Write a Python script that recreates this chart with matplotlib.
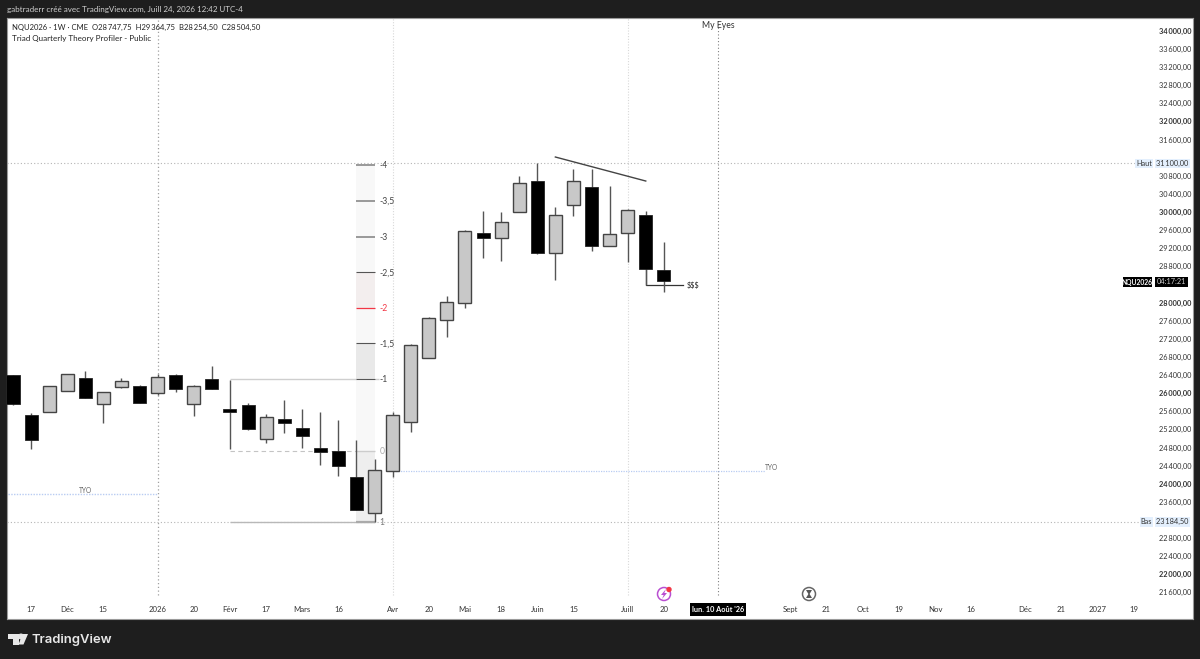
import numpy as np
from matplotlib import pyplot as plt
from matplotlib.patches import Rectangle, Polygon, Circle
from matplotlib.transforms import IdentityTransform, ScaledTranslation

plt.rcParams['font.family'] = ['Lato', 'DejaVu Sans']

#==================== DATA ====================
opens  = [26415, 25545, 25612, 26075, 26356, 25775, 26150, 26186, 26031, 26429, 25788, 26340,
          25678, 25753, 25009, 25451, 25245, 24804, 24737, 24177, 23369, 24296, 25391, 26804,
          27636, 28005, 29550, 29453, 30013, 30698, 29108, 30175, 30565, 29270, 29557, 29947, 28747.75]
closes = [25788, 24980, 26172, 26444, 25914, 26040, 26296, 25797, 26371, 26113, 26186, 26119,
          25598, 25223, 25501, 25356, 25069, 24722, 24413, 23448, 24318, 25545, 27077, 27680,
          28027, 29594, 29440, 29793, 30667, 29108, 29960, 30711, 29270, 29541, 30064, 28762, 28504.50]
highs  = [26422, 25576, 26186, 26450, 26517, 26046, 26349, 26201, 26437, 26440, 26208, 26621,
          26311, 25810, 25554, 25870, 25665, 25598, 25422, 24980, 24561, 25598, 27113, 27702,
          28166, 29623, 30049, 30020, 30815, 31100, 30137, 30976, 30963, 30601, 30093, 30049, 29364.75]
lows   = [25766, 24795, 25612, 26069, 25914, 25356, 26128, 25793, 25987, 26047, 25523, 26119,
          24795, 25201, 24914, 25148, 24810, 24442, 24199, 23440, 23184.50, 24177, 25170, 26804,
          27261, 27894, 29011, 28938, 30013, 29086, 28512, 29932, 29166, 29270, 28923, 28409, 28254.50]

price_ticks = [21600 + 400 * k for k in range(32)]
hidden_ticks = [31200, 28400, 23200]

week_ticks  = [1, 3, 5, 8, 10, 12, 14, 16, 18, 21, 23, 25, 27, 29, 31, 34, 36, 43, 45, 47, 49, 51, 53, 56, 58, 60, 62]
week_labels = ['17', 'Déc', '15', '2026', '20', 'Févr', '17', 'Mars', '16', 'Avr', '20', 'Mai', '18', 'Juin', '15',
               'Juill', '20', 'Sept', '21', 'Oct', '19', 'Nov', '16', 'Déc', '21', '2027', '19']

level_names  = ['-4', '-3,5', '-3', '-2,5', '-2', '-1,5', '-1', '0', '1']
level_prices = [31064, 30270, 29475, 28689, 27901, 27122, 26323, 24744, 23177]
level_colors = ['#999999', '#999999', '#999999', '#555555', '#f23645', '#555555', '#555555', '#cccccc', '#aaaaaa']
level_widths = [1.4, 1.4, 1.4, 0.8, 0.9, 0.8, 0.8, 1.0, 1.6]
label_colors = ['#444444', '#444444', '#444444', '#444444', '#f23645', '#444444', '#444444', '#aaaaaa', '#777777']
band_colors  = ['#f8f8f8', '#f8f8f8', '#f8f8f8', '#f3eeee', '#f8f8f8', '#e9e9e9', '#f8f8f8', '#eeeeee']

high_price = 31100
low_price = 23184.50
tyo_prices = [23802, 24292]
sweep_price = 28409
trend_weeks = [30, 35]
trend_prices = [31234, 30704]

#==================== FIGURE ====================
W, H = 1200, 659
fig = plt.figure(figsize=(W / 100, H / 100), dpi=100, facecolor='#1e1e1e')

L, R, T, B = 7, 1193, 18, 619
ax = fig.add_axes([L / W, 1 - B / H, (R - L) / W, (B - T) / H], facecolor='white')
ax.set_xlim(-0.332, 65.27)
ax.set_ylim(21035, 34303)
for s in ax.spines.values():
    s.set_color('#9a9a9a')
    s.set_linewidth(0.8)


# x position of a pixel, for the few drawing objects anchored on screen
def px(x):
    return (x - 13) / 18.08


# vertical session lines
ax.vlines([8], 21570, 34303, color='#a0a0a0', lw=0.9, ls=(0, (1, 2)), zorder=1)
ax.vlines([21, 34], 21570, 34303, color='#d8d8d8', lw=0.8, ls=(0, (1, 1.5)), zorder=1)
ax.vlines([39], 21570, 34303, color='#808080', lw=0.8, ls=(0, (1, 2)), zorder=1)

# high / low lines
ax.hlines(high_price, px(7), px(1135), color='#b4b4b4', lw=0.8, ls=(0, (1, 2)), zorder=1)
ax.hlines(low_price, px(7), px(1140), color='#b4b4b4', lw=0.8, ls=(0, (1, 2)), zorder=1)

# profiler column
col_l, col_r = px(356.5), px(374.7)
for k, c in enumerate(band_colors):
    ax.fill_between([col_l, col_r], level_prices[k + 1], level_prices[k], color=c, lw=0, zorder=1)
for name, p, c, w, tc in zip(level_names, level_prices, level_colors, level_widths, label_colors):
    ax.hlines(p, col_l, col_r, color=c, lw=w, zorder=2)
    ax.text(px(379.5), p - 10, name, color=tc, fontsize=6.2, va='center', ha='left', zorder=3)

# box lines
ax.hlines(level_prices[6], 12, col_l, color='#cfcfcf', lw=1.0, zorder=1)
ax.hlines(level_prices[6], col_r, px(379), color='#cfcfcf', lw=1.0, zorder=1)
ax.hlines(level_prices[7], 12, col_l, color='#c4c4c4', lw=0.8, ls=(0, (4, 3)), zorder=1)
ax.hlines(level_prices[8], 12, col_r, color='#b8b8b8', lw=1.0, zorder=1)

# TYO
ax.hlines(tyo_prices[0], px(8), 8, color='#b9ccf2', lw=1.0, ls=(0, (1, 1)), zorder=1)
ax.text(4, tyo_prices[0] + 75, 'TYO', color='#666666', fontsize=4.8, ha='center', va='center')
ax.hlines(tyo_prices[1], 21, px(765), color='#b9ccf2', lw=0.9, ls=(0, (1, 1)), zorder=1)
ax.text(px(772), tyo_prices[1] + 95, 'TYO', color='#666666', fontsize=4.8, ha='center', va='center')

# candles
weeks = np.arange(len(opens))
opens = np.array(opens)
closes = np.array(closes)
up = closes > opens
body_low = np.minimum(opens, closes)
body_h = np.abs(closes - opens)
ax.vlines(weeks, lows, highs, color='#555555', lw=1.0, zorder=3)
ax.bar(weeks[up], body_h[up], bottom=body_low[up], width=0.72, color='#c8c8c8',
       edgecolor='#444444', linewidth=1.0, zorder=4)
ax.bar(weeks[~up], body_h[~up], bottom=body_low[~up], width=0.72, color='black',
       edgecolor='#222222', linewidth=0.6, zorder=4)

# drawings
ax.plot(trend_weeks, trend_prices, color='#444444', lw=1.0, zorder=5)
ax.plot([35, 35, px(683)], [closes[35], sweep_price, sweep_price], color='#333333', lw=0.9, zorder=2)
ax.text(px(687), sweep_price, '$$$', color='#222222', fontsize=5.2, va='center', ha='left', zorder=5)
ax.text(39, 34140, 'My Eyes', color='#333333', fontsize=6.2, ha='center', va='center', zorder=5)

# axes
ax.yaxis.tick_right()
ax.set_yticks(price_ticks)
tick_text = []
for p in price_ticks:
    if p in hidden_ticks:
        tick_text.append('')
    else:
        tick_text.append(f'{p // 1000}\u2009{p % 1000:03d},00')
ax.set_yticklabels(tick_text)
ax.tick_params(axis='y', direction='in', length=0, pad=-24.3, labelsize=5.3, labelcolor='#333333')
shift_up = ScaledTranslation(0, 1 / 100, fig.dpi_scale_trans)
for p, lab in zip(price_ticks, ax.get_yticklabels()):
    lab.set_transform(lab.get_transform() + shift_up)
    if p % 2000 == 0:
        lab.set_fontweight('bold')
ax.set_xticks(week_ticks)
ax.set_xticklabels(week_labels)
ax.tick_params(axis='x', direction='in', length=0, pad=-9.5, labelsize=5.6, labelcolor='#333333')


# screen pieces, in pixels from the top left
def box(x0, y0, x1, y1, color, **kw):
    fig.add_artist(Rectangle((x0 / W, 1 - y1 / H), (x1 - x0) / W, (y1 - y0) / H, transform=fig.transFigure,
                             facecolor=color, edgecolor='none', zorder=8, **kw))


def label(x, y, s, color='#333333', size=5.3, ha='left', **kw):
    fig.text(x / W, 1 - y / H, s, color=color, fontsize=size, ha=ha, va='center', zorder=9, **kw)


def dot(x, y, r, **kw):
    fig.add_artist(Circle((x, H - y), r, transform=IdentityTransform(), zorder=8, **kw))


def shape(pts, color):
    fig.add_artist(Polygon([(x / W, 1 - y / H) for x, y in pts], transform=fig.transFigure,
                           facecolor=color, edgecolor='none', zorder=9))


label(7, 9.5, 'gabtraderr créé avec TradingView.com, Juill 24, 2026 12:42 UTC-4', color='#cfcfcf', size=5.75)
label(12, 27, 'NQU2026 · 1W · CME  O28\u2009747,75  H29\u2009364,75  B28\u2009254,50  C28\u2009504,50', color='#222222', size=5.5)
label(12, 38.5, 'Triad Quarterly Theory Profiler - Public', color='#222222', size=5.75)

box(1135, 159, 1153, 168, '#e3effd')
box(1155, 159, 1190, 168, '#e3effd')
label(1144, 163.5, 'Haut', ha='center')
label(1172.5, 163.5, '31\u2009100,00', ha='center')
box(1140, 517, 1153, 526.5, '#e3effd')
box(1155, 517, 1190, 526.5, '#e3effd')
label(1146.5, 521.7, 'Bas', ha='center')
label(1172.5, 521.7, '23\u2009184,50', ha='center')
box(1123, 277, 1152, 287, 'black')
box(1155, 277, 1188, 287, 'black')
label(1137.5, 282, 'NQU2026', color='white', ha='center', fontweight='bold', size=4.9)
label(1171.5, 282, '04:17:21', color='#cccccc', ha='center')

box(690, 603, 746, 615.5, 'black')
label(718, 609.5, "lun. 10 Août '26", color='white', ha='center', fontweight='bold', size=5.3)

# alert icons
dot(664, 594, 6.5, fill=False, edgecolor='#b94fd1', lw=1.1)
shape([(666, 589), (661, 595), (663.7, 595), (662, 599), (667, 593), (664.3, 593)], '#b94fd1')
dot(669, 589.5, 2, color='#f23645')
dot(809, 594, 6.5, fill=False, edgecolor='#666666', lw=1.1)
shape([(806, 590), (812, 590), (809.6, 594), (812, 598), (806, 598), (808.4, 594)], '#555555')

# logo
shape([(8, 634), (18.5, 634), (18.5, 644.5), (13, 644.5), (13, 639), (8, 639)], '#e8e8e8')
shape([(22.5, 634), (28, 634), (23.5, 644.5), (18.5, 644.5)], '#e8e8e8')
dot(21, 636.5, 2.3, color='#e8e8e8')
label(32, 639.5, 'TradingView', color='#e8e8e8', size=9.4, family='Inter', fontweight='semibold')

fig.savefig('out.png', dpi=100, facecolor=fig.get_facecolor())
